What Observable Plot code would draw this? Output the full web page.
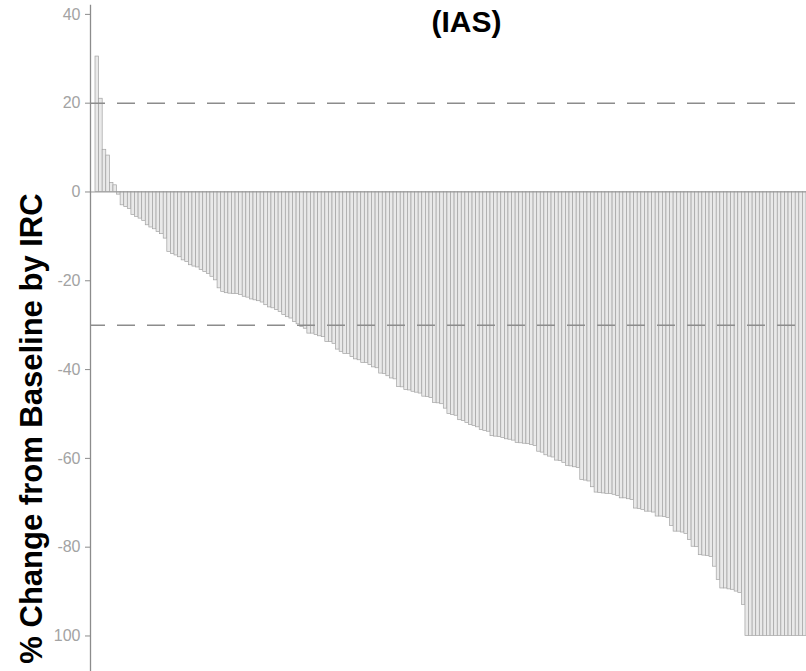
<!DOCTYPE html>
<html>
<head>
<meta charset="utf-8">
<script src="https://cdn.jsdelivr.net/npm/d3@7"></script>
<script src="https://cdn.jsdelivr.net/npm/@observablehq/plot@0.6"></script>
<style>
  html, body { margin: 0; padding: 0; background: #fff; }
  #chart { width: 806px; height: 671px; overflow: hidden; }
</style>
</head>
<body>
<div id="chart"></div>
<script>
// Best % change from baseline by IRC, one value per patient (sorted)
const changes = [
  30.5, 21.0, 9.5, 8.2, 2.0, 1.5, -0.6, -3.0, -3.4, -3.8,
  -5.2, -5.6, -6.0, -6.5, -7.5, -8.0, -8.4, -9.0, -9.5, -10.5,
  -13.5, -14.0, -14.3, -14.7, -15.4, -15.8, -16.5, -16.8, -17.0, -17.6,
  -18.0, -18.5, -19.1, -19.9, -21.7, -22.5, -22.8, -22.9, -23.0, -23.0,
  -23.2, -23.6, -23.8, -24.2, -24.4, -24.6, -24.9, -25.5, -26.0, -26.2,
  -26.6, -27.0, -27.7, -28.2, -28.5, -29.3, -29.8, -30.4, -30.8, -31.9,
  -31.9, -32.2, -32.5, -32.7, -33.8, -33.8, -34.2, -35.5, -36.0, -36.5,
  -36.5, -37.2, -37.7, -37.9, -38.5, -38.5, -39.0, -39.5, -39.7, -40.9,
  -41.0, -41.5, -42.0, -42.2, -43.9, -44.0, -44.6, -44.7, -45.0, -45.2,
  -45.4, -46.1, -46.2, -46.4, -47.5, -47.6, -47.8, -48.8, -50.0, -50.2,
  -50.4, -51.4, -51.6, -52.0, -52.5, -52.7, -53.0, -53.6, -53.8, -54.0,
  -55.0, -55.1, -55.2, -55.4, -55.7, -55.8, -56.0, -56.5, -56.6, -56.7,
  -56.8, -57.0, -57.2, -58.5, -58.7, -59.3, -59.6, -59.8, -60.5, -60.6,
  -61.0, -61.7, -61.8, -62.0, -62.2, -64.9, -65.0, -65.2, -66.5, -67.7,
  -67.8, -67.9, -68.0, -68.0, -68.2, -68.5, -69.0, -69.0, -69.2, -69.4,
  -71.3, -71.4, -71.6, -72.0, -72.0, -72.2, -73.1, -73.1, -73.2, -73.4,
  -75.2, -76.5, -76.5, -76.7, -77.0, -78.4, -79.9, -80.0, -81.8, -81.9,
  -82.0, -82.2, -84.4, -87.4, -89.3, -89.3, -89.5, -89.6, -90.0, -90.3,
  -93.0, -100, -100, -100, -100, -100, -100, -100, -100, -100,
  -100, -100, -100, -100, -100, -100, -100, -100
];
const patients = changes.map((_, i) => i + 1);
const referenceLines = [20, -30];
const yTicks = [40, 20, 0, -20, -40, -60, -80, -100];
const yTickLabels = ["40", "20", "0", "-20", "-40", "-60", "-80", "100"];
const titleText = "(IAS)";
const yLabelText = "% Change from Baseline by IRC";

const data = patients.map((p, i) => ({patient: p, change: changes[i]}));
const font = "'Liberation Sans', Arial, Helvetica, sans-serif";

const chart = Plot.plot({
  width: 806,
  height: 671,
  marginLeft: 90,
  marginRight: 0,
  marginTop: 5,
  marginBottom: 0,
  style: {fontFamily: font, background: "#fff", overflow: "hidden"},
  x: {type: "band", domain: patients, range: [95, 806], padding: 0, axis: null},
  y: {domain: [-108, 42], axis: null},
  marks: [
    Plot.barY(data, {x: "patient", y: "change", fill: "#e9e9e9", stroke: "#a3a3a3", strokeWidth: 0.7}),
    Plot.ruleY([0], {stroke: "#9a9a9a", strokeWidth: 1}),
    Plot.ruleY(referenceLines, {stroke: "#8c8c8c", strokeWidth: 1.5, strokeDasharray: "18,12", strokeDashoffset: 3}),
    Plot.axisY({
      anchor: "left",
      ticks: yTicks,
      tickFormat: d => yTickLabels[yTicks.indexOf(d)],
      tickSize: 5,
      tickPadding: 5,
      fontSize: 16,
      stroke: "#8c8c8c",
      fill: "#a3a3a3",
      label: null
    }),
    Plot.frame({anchor: "left", stroke: "#8c8c8c", strokeWidth: 1.3}),
    Plot.text([titleText], {
      frameAnchor: "top", dx: 18, dy: 5,
      fontSize: 30, fontWeight: "bold", fill: "#000"
    }),
    Plot.text([yLabelText], {
      frameAnchor: "left", textAnchor: "middle", lineAnchor: "middle",
      rotate: -90, dx: -58, dy: 90,
      fontSize: 31, fontWeight: "bold", fill: "#000"
    })
  ]
});
document.getElementById("chart").appendChild(chart);
</script>
</body>
</html>
